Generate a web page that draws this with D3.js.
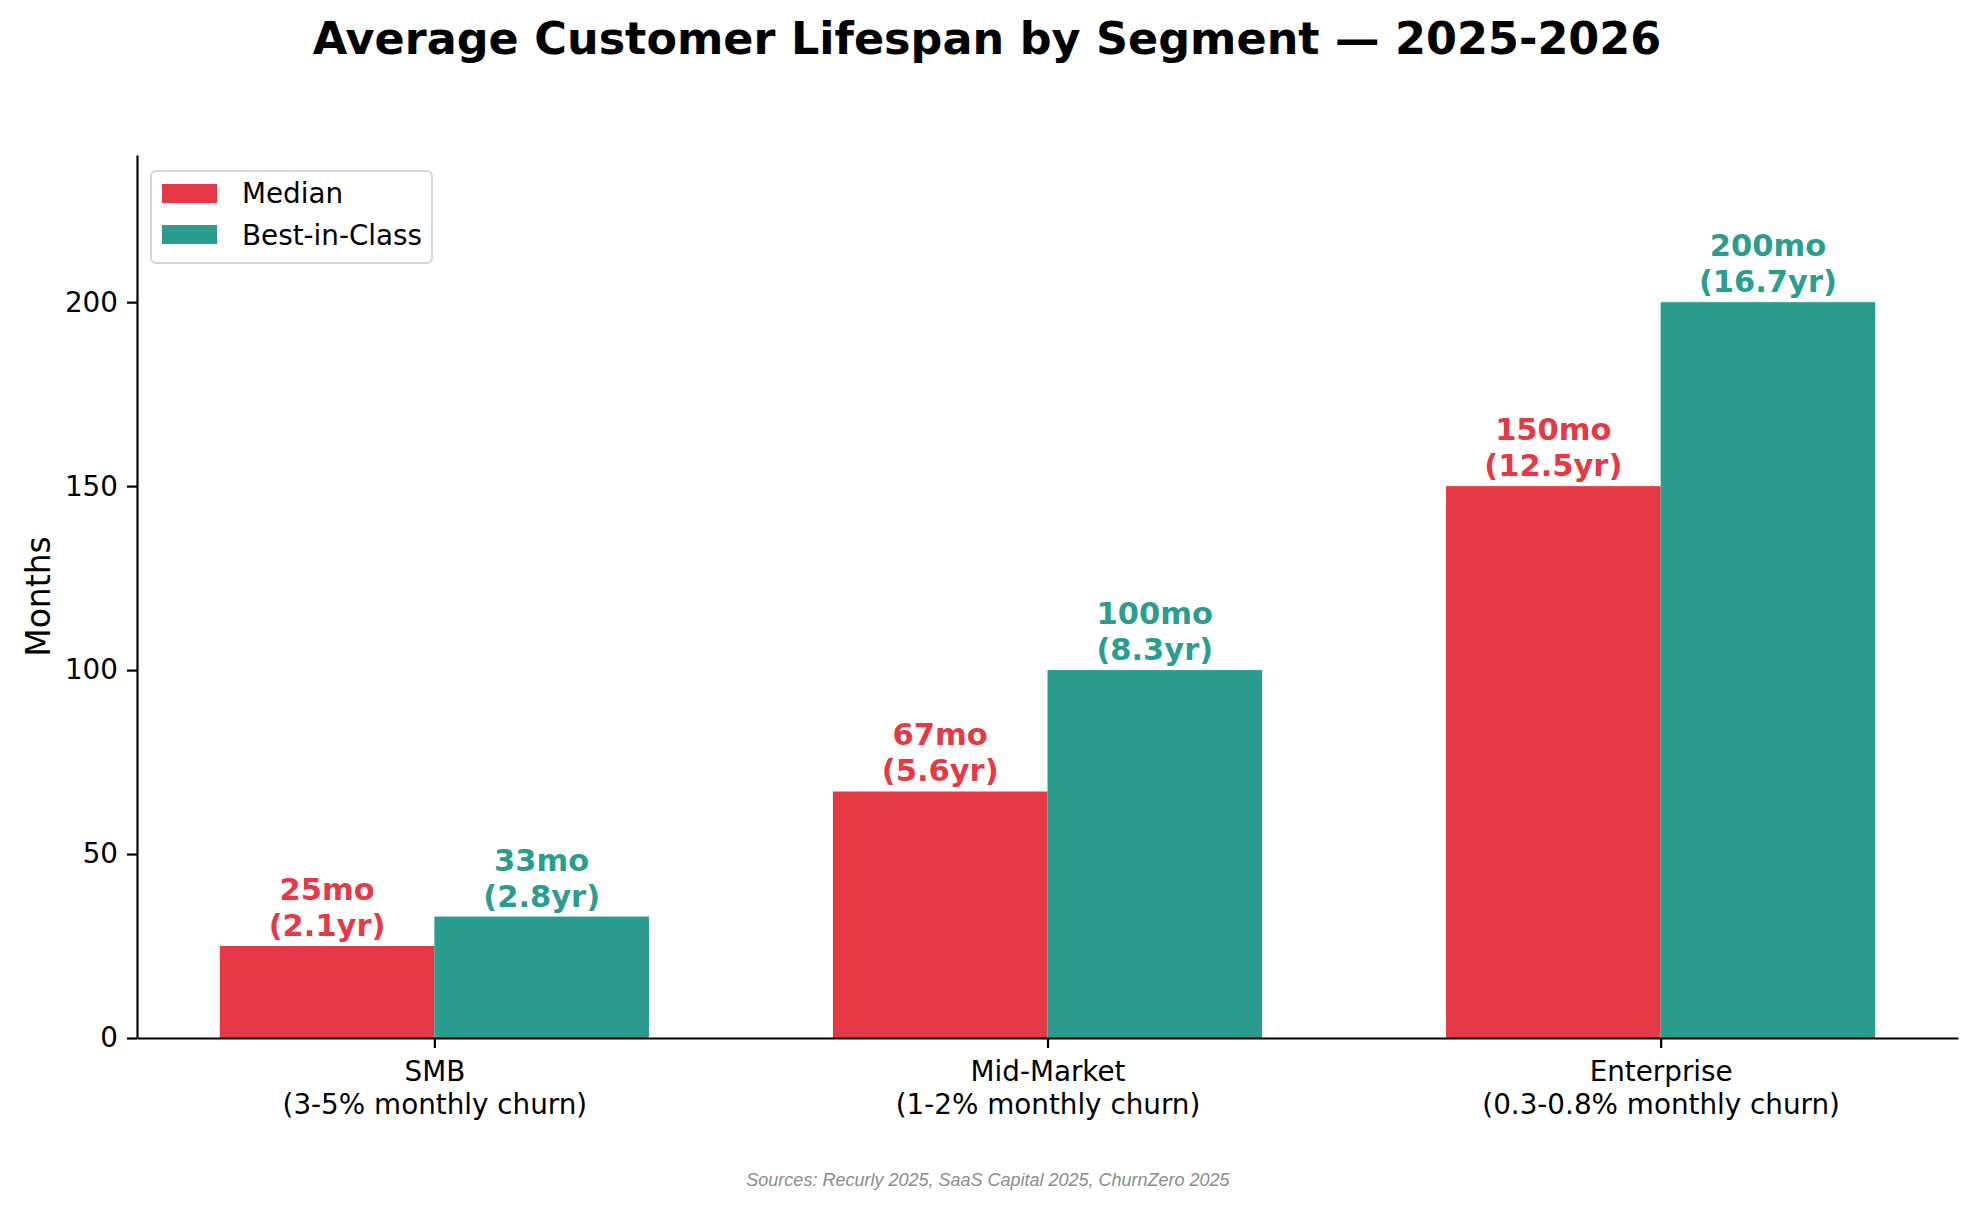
<!DOCTYPE html>
<html>
<head>
<meta charset="utf-8">
<script src="https://cdn.jsdelivr.net/npm/d3@7"></script>
<style>
  body { margin: 0; background: #fff; }
  text { font-family: "DejaVu Sans", sans-serif; }
</style>
</head>
<body>
<div id="chart"></div>
<script>
// chart data
var segments = ["SMB", "Mid-Market", "Enterprise"];
var churnNotes = ["(3-5% monthly churn)", "(1-2% monthly churn)", "(0.3-0.8% monthly churn)"];
var seriesNames = ["Median", "Best-in-Class"];
var medianMonths = [25, 67, 150];
var bestMonths = [33, 100, 200];
var yTicks = [0, 50, 100, 150, 200];

var colors = ["#e63946", "#2a9d8f"];

var svgWidth = 1977;
var svgHeight = 1209;

var margin = {
    top: 155,
    right: 19,
    bottom: 171,
    left: 137
};

var width = svgWidth - margin.left - margin.right;
var height = svgHeight - margin.top - margin.bottom;

var svg = d3.select("#chart")
    .append("svg")
    .attr("width", svgWidth)
    .attr("height", svgHeight);

svg.append("rect")
    .attr("width", svgWidth)
    .attr("height", svgHeight)
    .attr("fill", "#fff");

const chartGroup = svg.append("g")
    .attr("transform", `translate(${margin.left}, ${margin.top})`);

var barW = 0.35;

// x is a linear scale over category index, like matplotlib's bar offsets
var xScale = d3.scaleLinear()
    .domain([-0.485, 2.485])
    .range([0, width]);

var yScale = d3.scaleLinear()
    .domain([0, 240])
    .range([height, 0]);

// bars
var series = [medianMonths, bestMonths];
series.forEach((vals, s) => {
    var offset = s === 0 ? -barW : 0;
    chartGroup.selectAll(".bar" + s)
        .data(vals)
        .enter()
        .append("rect")
        .attr("x", (d, i) => xScale(i + offset))
        .attr("y", d => yScale(d))
        .attr("width", xScale(barW) - xScale(0))
        .attr("height", d => height - yScale(d))
        .attr("fill", colors[s]);

    // value labels
    var lbl = chartGroup.selectAll(".lbl" + s)
        .data(vals)
        .enter()
        .append("text")
        .attr("text-anchor", "middle")
        .attr("fill", colors[s])
        .style("font-size", "30.5px")
        .style("font-weight", "bold");
    lbl.append("tspan")
        .attr("x", (d, i) => xScale(i + offset + barW / 2))
        .attr("y", d => yScale(d) - 46)
        .text(d => d + "mo");
    lbl.append("tspan")
        .attr("x", (d, i) => xScale(i + offset + barW / 2))
        .attr("y", d => yScale(d) - 10)
        .text(d => "(" + (d / 12).toFixed(1) + "yr)");
});

// axes
var leftAxis = d3.axisLeft(yScale)
    .tickValues(yTicks)
    .tickSize(10)
    .tickSizeOuter(0)
    .tickPadding(9);

var bottomAxis = d3.axisBottom(xScale)
    .tickValues([0, 1, 2])
    .tickSize(10)
    .tickSizeOuter(0)
    .tickFormat("");

var yAxisG = chartGroup.append("g")
    .call(leftAxis);

var xAxisG = chartGroup.append("g")
    .attr("transform", `translate(0, ${height})`)
    .call(bottomAxis);

[yAxisG, xAxisG].forEach(g => {
    g.selectAll("path, line").attr("stroke", "#000").attr("stroke-width", 2.2);
    g.selectAll("text").attr("fill", "#000").style("font-size", "27.8px").style("font-family", "DejaVu Sans");
});

xAxisG.selectAll(".tick text").remove();
xAxisG.selectAll(".tick").append("text")
    .attr("text-anchor", "middle")
    .attr("fill", "#000")
    .style("font-size", "27.8px")
    .each(function(d, i) {
        var t = d3.select(this);
        t.append("tspan").attr("x", 0).attr("y", 43).text(segments[i]);
        t.append("tspan").attr("x", 0).attr("y", 76).text(churnNotes[i]);
    });

// y label
svg.append("text")
    .attr("transform", `translate(50, ${margin.top + height / 2}) rotate(-90)`)
    .attr("text-anchor", "middle")
    .style("font-size", "33px")
    .text("Months");

// title
svg.append("text")
    .attr("x", 987)
    .attr("y", 54)
    .attr("text-anchor", "middle")
    .style("font-size", "44.5px")
    .style("font-weight", "bold")
    .text("Average Customer Lifespan by Segment \u2014 2025-2026");

// source note
svg.append("text")
    .attr("x", 988)
    .attr("y", 1186)
    .attr("text-anchor", "middle")
    .attr("fill", "#8c8c8c")
    .style("font-family", "Liberation Sans")
    .style("font-style", "italic")
    .style("font-size", "18px")
    .text("Sources: Recurly 2025, SaaS Capital 2025, ChurnZero 2025");

// legend
var legend = svg.append("g")
    .attr("transform", "translate(151, 171)");

legend.append("rect")
    .attr("width", 281)
    .attr("height", 92)
    .attr("rx", 5)
    .attr("fill", "#fff")
    .attr("fill-opacity", 0.8)
    .attr("stroke", "#d6d6d6")
    .attr("stroke-width", 2);

seriesNames.forEach((name, i) => {
    legend.append("rect")
        .attr("x", 11)
        .attr("y", 13 + i * 41)
        .attr("width", 55)
        .attr("height", 19)
        .attr("fill", colors[i]);
    legend.append("text")
        .attr("x", 91)
        .attr("y", 32 + i * 42)
        .style("font-size", "27.8px")
        .text(name);
});
</script>
</body>
</html>
